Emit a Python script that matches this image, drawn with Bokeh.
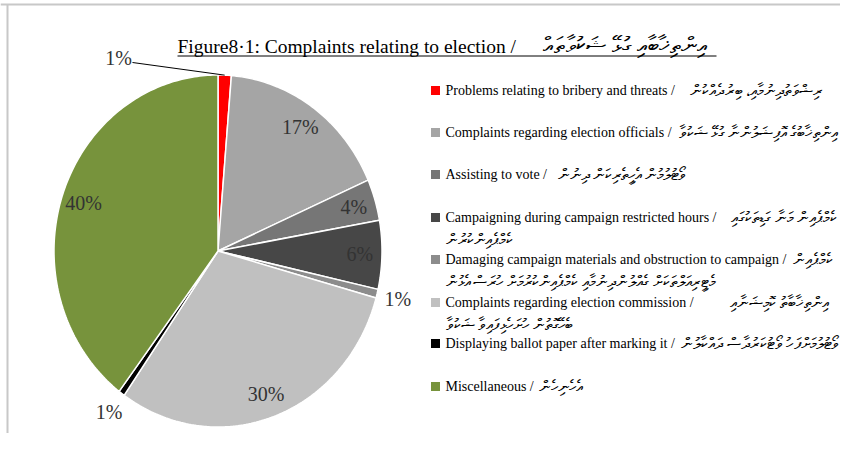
import numpy as np
from bokeh.plotting import figure
from bokeh.models import Range1d
from bokeh.core.properties import value
from bokeh.embed import file_html
from bokeh.resources import INLINE

# ---------------- data ----------------
title_en = "Figure8·1: Complaints relating to election"
title_dv = "އިންތިޚާބާއި ގުޅޭ ޝަކުވާތައް"

categories = [
    "Problems relating to bribery and threats",
    "Complaints regarding election officials",
    "Assisting to vote",
    "Campaigning during campaign restricted hours",
    "Damaging campaign materials and obstruction to campaign",
    "Complaints regarding election commission",
    "Displaying ballot paper after marking it",
    "Miscellaneous",
]
categories_dv = [
    "ރިޝްވަތުދިނުމާއި، ބިރުދެއްކުން",
    "އިންތިޚާބުގެ އޮފިޝަލުންނާ ގުޅޭ ޝަކުވާ",
    "ވޯޓުލުމުން އެހީތެރިކަން ދިނުން",
    "ކެމްޕެއިން މަނާ ގަޑިތަކުގައި\nކެމްޕެއިންކުރުން",
    "ކެމްޕެއިން\nމެޓީރިއަލްތަކަށް ގެއްލުންދިނުމާއި ކެމްޕެއިންކުރުމަށް ހުރަސް އެޅުން",
    "އިންތިޚާބާތު ކޮމިޝަނާއި\nބެހޭގޮތުން ހުށަހެޅިފައިވާ ޝަކުވާ",
    "ވޯޓުލުމަށްފަހު ވޯޓުކަރުދާސް ދައްކާލުން",
    "އެހެނިހެން",
]
shares = [1.3, 17.1, 3.8, 6.3, 0.8, 30.4, 0.6, 39.7]
pct_labels = ["1%", "17%", "4%", "6%", "1%", "30%", "1%", "40%"]
colors = ["#FF0000", "#A5A5A5", "#767676", "#474747", "#8C8C8C", "#C0C0C0", "#000000", "#77933C"]

# ---------------- layout ----------------
W, H = 840, 433
CX, CY, RX, RY = 217.5, 250.5, 164, 176
SERIF = value("Liberation Serif")

p = figure(width=W, height=H, x_range=Range1d(0, W), y_range=Range1d(H, 0),
           x_axis_type=None, y_axis_type=None, output_backend="svg",
           toolbar_location=None, min_border=0)
p.grid.visible = False
p.outline_line_color = None
p.background_fill_color = "white"

# page frame lines (top and left)
p.segment(x0=[0, 7], y0=[4, 4], x1=[W, 7], y1=[4, H], line_color="#C8C8C8", line_width=2)

# ---------------- pie ----------------
vals = np.array(shares, dtype=float)
fr = vals / vals.sum()
ends = np.cumsum(fr)
starts = ends - fr


def pt(frac, r=1.0):
    th = 2 * np.pi * frac
    return CX + RX * r * np.sin(th), CY - RY * r * np.cos(th)


xs, ys = [], []
for s, e in zip(starts, ends):
    n = max(3, int((e - s) * 400))
    t = np.linspace(s, e, n)
    ax, ay = pt(t)
    xs.append([CX] + list(ax))
    ys.append([CY] + list(ay))
p.patches(xs, ys, fill_color=colors, line_color="white", line_width=1.5)

# percentage labels: inside at mid-angle, small slices outside
mids = (starts + ends) / 2
lx, ly = [], []
for i, m in enumerate(mids):
    r = 1.13 if fr[i] < 0.02 else 0.865
    x, y = pt(m, r)
    lx.append(x)
    ly.append(y)
# first label moved away with a leader line (Excel best fit)
lx[0], ly[0] = 118, 57
p.text(x=lx, y=ly, text=pct_labels, text_align="center", text_baseline="middle",
       text_font=SERIF, text_font_size="20px", text_color="#333333")
ex, ey = pt(mids[0], 1.0)
p.segment(x0=[lx[0] + 14], y0=[ly[0] + 5], x1=[ex], y1=[ey], line_color="black", line_width=1)

# ---------------- title ----------------
p.text(x=[177], y=[46], text=[f"{title_en} /"], text_align="left",
       text_baseline="alphabetic", text_font=SERIF, text_font_size="19.5px", text_color="black")
p.text(x=[706], y=[45], text=[title_dv], text_align="right",
       text_baseline="alphabetic", text_font=SERIF, text_font_size="23px", text_color="black")
p.segment(x0=[177], y0=[55.5], x1=[716], y1=[55.5], line_color="black", line_width=1)

# ---------------- legend ----------------
rows = [90, 132, 174, 217, 259, 302, 343, 386]
line_gap = 22
dv_left = {0: 689, 1: 678, 2: 557, 6: 680, 7: 538}     # Thaana start on single-line rows
wrap_right = {3: 836, 4: 832, 5: 827}                    # Thaana end on wrapped rows
p.rect(x=[435] * len(rows), y=rows, width=9, height=9, fill_color=colors, line_color=None)

en_x, en_y, en_t = [], [], []
dl_x, dl_y, dl_t = [], [], []
dr_x, dr_y, dr_t = [], [], []
for i, (en, dv) in enumerate(zip(categories, categories_dv)):
    parts = dv.split("\n")
    en_x.append(445); en_y.append(rows[i]); en_t.append(f"{en} /")
    if len(parts) == 1:
        dl_x.append(dv_left[i]); dl_y.append(rows[i]); dl_t.append(dv)
    else:
        dr_x.append(wrap_right[i]); dr_y.append(rows[i]); dr_t.append(parts[0])
        dl_x.append(445); dl_y.append(rows[i] + line_gap); dl_t.append(parts[1])
p.text(x=en_x, y=en_y, text=en_t, text_align="left", text_baseline="middle",
       text_font=SERIF, text_font_size="14px", text_color="black")
p.text(x=dl_x, y=dl_y, text=dl_t, text_align="left", text_baseline="middle",
       text_font=SERIF, text_font_size="15.5px", text_color="black")
p.text(x=dr_x, y=dr_y, text=dr_t, text_align="right", text_baseline="middle",
       text_font=SERIF, text_font_size="15.5px", text_color="black")

open("out.html", "w").write(file_html(p, INLINE))
